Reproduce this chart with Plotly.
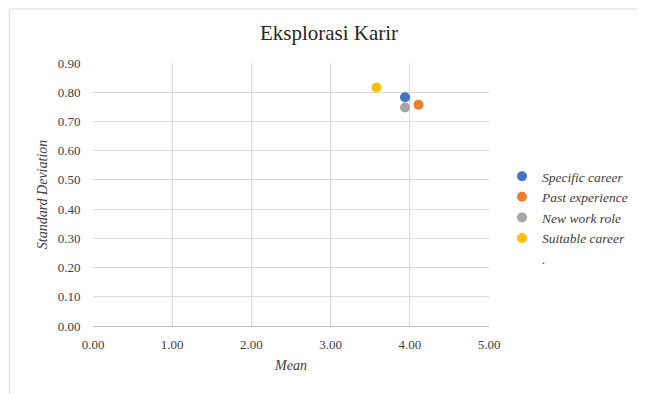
import plotly.graph_objects as go

series_names = ["Specific career", "Past experience", "New work role", "Suitable career"]
mean_values = [3.94, 4.11, 3.94, 3.58]
sd_values = [0.783, 0.757, 0.748, 0.816]
colors = ["#4472C4", "#ED7D31", "#A5A5A5", "#FFC000"]
tick_vals_x = [0, 1, 2, 3, 4, 5]
tick_vals_y = [0, 0.1, 0.2, 0.3, 0.4, 0.5, 0.6, 0.7, 0.8, 0.9]

OFF = 8  # default page body margin
W, H = 645 - OFF, 394 - OFF
SL, ST, pw, ph = 93, 63, 397, 263   # plot area in screen px
L, T = SL - OFF, ST - OFF
R = W - L - pw
B = H - T - ph

fig = go.Figure()
for n, xv, yv, c in zip(series_names, mean_values, sd_values, colors):
    fig.add_trace(go.Scatter(x=[xv], y=[yv], mode="markers", name=n,
                             marker=dict(color=c, size=10)))
fig.add_trace(go.Scatter(x=[None], y=[None], mode="markers", name=".",
                         marker=dict(color="rgba(0,0,0,0)", size=10)))

# outer chart frame (left and top edges visible)
fig.add_shape(type="line", xref="paper", yref="paper",
              x0=(9 - SL) / pw, x1=(9 - SL) / pw,
              y0=(ST + ph - 400) / ph, y1=(ST + ph - 9) / ph,
              line=dict(color="#d9d9d9", width=1), layer="below")
fig.add_shape(type="line", xref="paper", yref="paper",
              x0=(9 - SL) / pw, x1=(650 - SL) / pw,
              y0=(ST + ph - 9) / ph, y1=(ST + ph - 9) / ph,
              line=dict(color="#d9d9d9", width=1), layer="below")

fig.update_layout(
    width=W, height=H,
    margin=dict(l=L, r=R, t=T, b=B),
    paper_bgcolor="white", plot_bgcolor="white",
    title=dict(text="Eksplorasi Karir", x=(329 - OFF) / W, xanchor="center", y=1 - (33 - OFF) / H, yanchor="middle",
               font=dict(family="Liberation Serif", size=21, color="#262626")),
    font=dict(family="Liberation Serif", size=13, color="#404040"),
    xaxis=dict(range=[0, 5], tickvals=tick_vals_x, tickformat=".2f",
               showgrid=True, gridcolor="#d9d9d9", zeroline=False,
               showline=True, linecolor="#bfbfbf", ticks="outside", ticklen=6,
               tickcolor="rgba(0,0,0,0)",
               tickfont=dict(family="Liberation Serif", size=13, color="#404040"),
               title=dict(text="Mean", font=dict(family="Liberation Serif", size=14, color="#404040", style="italic"), standoff=9)),
    yaxis=dict(range=[0, 0.9], tickvals=tick_vals_y, tickformat=".2f",
               showgrid=True, gridcolor="#d9d9d9", zeroline=False,
               showline=False, ticks="outside", ticklen=9, tickcolor="rgba(0,0,0,0)",
               tickfont=dict(family="Liberation Serif", size=13, color="#404040"),
               title=dict(text="Standard Deviation", font=dict(family="Liberation Serif", size=14, color="#404040", style="italic"), standoff=6)),
    legend=dict(x=(502 - SL) / pw, xanchor="left", y=1 - (161 - ST) / ph, yanchor="top",
                font=dict(family="Liberation Serif", size=13.5, color="#404040", style="italic"),
                itemwidth=30, tracegroupgap=0, bgcolor="rgba(0,0,0,0)"),
    showlegend=True,
)
fig.write_html("out.html")
